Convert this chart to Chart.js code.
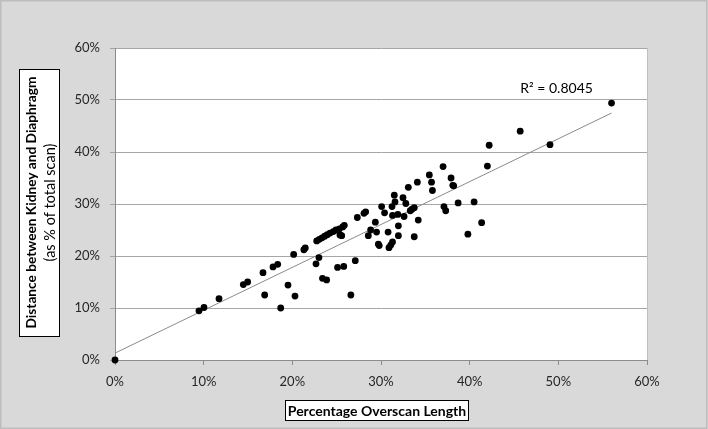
<!DOCTYPE html>
<html>
<head>
<meta charset="utf-8">
<script src="https://cdn.jsdelivr.net/npm/chart.js@4"></script>
<style>
html,body{margin:0;padding:0;background:#d9d9d9;}
canvas{display:block;}
</style>
</head>
<body>
<canvas id="c" width="708" height="429"></canvas>
<script>
// Percentage Overscan Length (%)
const overscanX = [0, 9.47, 10.04, 11.73, 14.47, 14.96, 16.69, 16.88, 17.82, 18.35, 18.69, 19.51, 20.15, 20.3, 21.3, 21.46, 22.67, 23.0, 23.4, 23.87,
  22.75, 23.04, 23.35, 23.65, 23.94, 24.25, 24.62, 24.92, 25.3, 25.68, 25.86, 25.37, 25.57, 25.1, 25.8, 26.6, 27.1, 27.33, 28.08, 28.27,
  28.57, 28.83, 29.36, 29.5, 29.8, 29.7, 30.07, 30.4, 30.8, 30.9, 31.1, 31.3, 31.24, 31.3, 31.5, 31.58, 31.9, 31.96, 31.96, 32.48,
  32.6, 32.8, 33.08, 33.3, 33.5, 33.75, 33.75, 34.1, 34.2, 35.45, 35.7, 35.8, 37.0, 37.1, 37.3, 37.9, 38.1, 38.2, 38.7, 39.8,
  40.5, 41.35, 42.0, 42.2, 45.7, 49.06, 56.0];
// Distance between Kidney and Diaphragm (% of total scan)
const distanceY = [0, 9.46, 10.1, 11.8, 14.5, 15.0, 16.8, 12.5, 17.9, 18.4, 10.0, 14.4, 20.3, 12.3, 21.2, 21.55, 18.5, 19.7, 15.7, 15.4,
  22.9, 23.2, 23.5, 23.8, 24.1, 24.4, 24.7, 25.0, 25.2, 25.6, 25.9, 24.05, 23.9, 17.8, 18.0, 12.5, 19.1, 27.4, 28.2, 28.5,
  23.9, 25.0, 26.5, 24.6, 22.0, 22.3, 29.5, 28.3, 24.6, 21.6, 22.1, 22.7, 29.5, 27.8, 31.7, 30.4, 28.0, 25.8, 23.9, 31.2,
  27.6, 30.1, 33.2, 28.7, 29.0, 29.3, 23.7, 34.2, 26.9, 35.6, 34.2, 32.6, 37.2, 29.5, 28.7, 35.0, 33.6, 33.5, 30.2, 24.2,
  30.4, 26.4, 37.3, 41.3, 44.0, 41.4, 49.4];
const tickValues = [0, 10, 20, 30, 40, 50, 60];
const r2Label = "R\u00B2 = 0.8045";
const xTitle = "Percentage Overscan Length";
const yTitle1 = "Distance between Kidney and Diaphragm";
const yTitle2 = "(as % of total scan)";

const points = overscanX.map((x, i) => ({x: x, y: distanceY[i]}));

// least-squares linear trendline
const n = points.length;
const mx = overscanX.reduce((a, b) => a + b, 0) / n;
const my = distanceY.reduce((a, b) => a + b, 0) / n;
let sxy = 0, sxx = 0;
for (let i = 0; i < n; i++) { sxy += (overscanX[i] - mx) * (distanceY[i] - my); sxx += (overscanX[i] - mx) ** 2; }
const slope = sxy / sxx, intercept = my - slope * mx;
const xMax = Math.max(...overscanX);
const trend = [{x: 0, y: intercept}, {x: xMax, y: intercept + slope * xMax}];

const FONT = "Lato, 'Liberation Sans', sans-serif";

const deco = {
  id: 'deco',
  beforeDraw(chart) {
    const ctx = chart.ctx, a = chart.chartArea;
    ctx.save();
    ctx.fillStyle = '#d9d9d9';
    ctx.fillRect(0, 0, chart.width, chart.height);
    ctx.strokeStyle = '#bdbdbd';
    ctx.lineWidth = 1.5;
    ctx.strokeRect(0.75, 0.75, chart.width - 2, chart.height - 1.5);
    ctx.fillStyle = '#ffffff';
    ctx.fillRect(a.left, a.top, a.right - a.left, a.bottom - a.top);
    // y title box
    ctx.fillStyle = '#ffffff';
    ctx.fillRect(19, 69, 40, 267);
    ctx.strokeStyle = '#000';
    ctx.lineWidth = 1;
    ctx.strokeRect(19.5, 69.5, 40, 267);
    ctx.save();
    ctx.translate(41, 202.5);
    ctx.rotate(-Math.PI / 2);
    ctx.fillStyle = '#000';
    ctx.textAlign = 'center';
    ctx.textBaseline = 'middle';
    ctx.font = "bold 13.7px " + FONT;
    ctx.fillText(yTitle1, 0, -9.3);
    ctx.font = "14.5px " + FONT;
    ctx.fillText(yTitle2, 0, 9);
    ctx.restore();
    // x title box
    ctx.fillStyle = '#ffffff';
    ctx.fillRect(285, 400, 183, 20);
    ctx.strokeStyle = '#000';
    ctx.strokeRect(285.5, 400.5, 183, 20);
    ctx.fillStyle = '#000';
    ctx.font = "bold 14px " + FONT;
    ctx.textAlign = 'center';
    ctx.textBaseline = 'middle';
    ctx.fillText(xTitle, 377, 411);
    ctx.restore();
  },
  afterDraw(chart) {
    const ctx = chart.ctx, a = chart.chartArea;
    const xs = chart.scales.x, ys = chart.scales.y;
    ctx.save();
    ctx.strokeStyle = '#bfbfbf';
    ctx.lineWidth = 1;
    ctx.beginPath();
    ctx.moveTo(Math.round(a.right) + 0.5, a.top);
    ctx.lineTo(Math.round(a.right) + 0.5, a.bottom);
    ctx.stroke();
    ctx.fillStyle = '#000';
    ctx.font = "14px " + FONT;
    ctx.textAlign = 'center';
    ctx.textBaseline = 'middle';
    ctx.fillText(r2Label, xs.getPixelForValue(49.8), ys.getPixelForValue(52.3));
    ctx.restore();
  }
};

new Chart(document.getElementById('c'), {
  type: 'scatter',
  data: {
    datasets: [
      {
        label: 'Data',
        data: points,
        pointRadius: 3.4,
        pointHoverRadius: 3.4,
        backgroundColor: '#000',
        borderColor: '#000',
        borderWidth: 0,
        clip: false,
        order: 0
      },
      {
        type: 'line',
        label: 'Linear',
        data: trend,
        borderColor: '#8a8a8a',
        borderWidth: 1,
        pointRadius: 0,
        fill: false,
        order: 1
      }
    ]
  },
  options: {
    responsive: false,
    animation: false,
    devicePixelRatio: 1,
    layout: { padding: { top: 48, right: 61, left: 0, bottom: 0 } },
    plugins: { legend: { display: false }, tooltip: { enabled: false } },
    scales: {
      x: {
        type: 'linear',
        min: 0, max: 60,
        afterBuildTicks: s => { s.ticks = tickValues.map(v => ({value: v})); },
        afterFit: s => { s.height = 69; },
        ticks: {
          callback: v => v + '%',
          font: { family: FONT, size: 13 },
          color: '#262626',
          padding: 9,
          maxRotation: 0
        },
        grid: { drawOnChartArea: false, drawTicks: true, tickLength: 5, color: '#8c8c8c' },
        border: { color: '#8c8c8c', width: 1 }
      },
      y: {
        type: 'linear',
        min: 0, max: 60,
        afterBuildTicks: s => { s.ticks = tickValues.map(v => ({value: v})); },
        afterFit: s => { s.width = 115; },
        ticks: {
          callback: v => v + '%',
          font: { family: FONT, size: 13 },
          color: '#262626',
          padding: 10
        },
        grid: { color: '#a6a6a6', drawTicks: true, tickLength: 5 },
        border: { color: '#8c8c8c', width: 1 }
      }
    }
  },
  plugins: [deco]
});
</script>
</body>
</html>
